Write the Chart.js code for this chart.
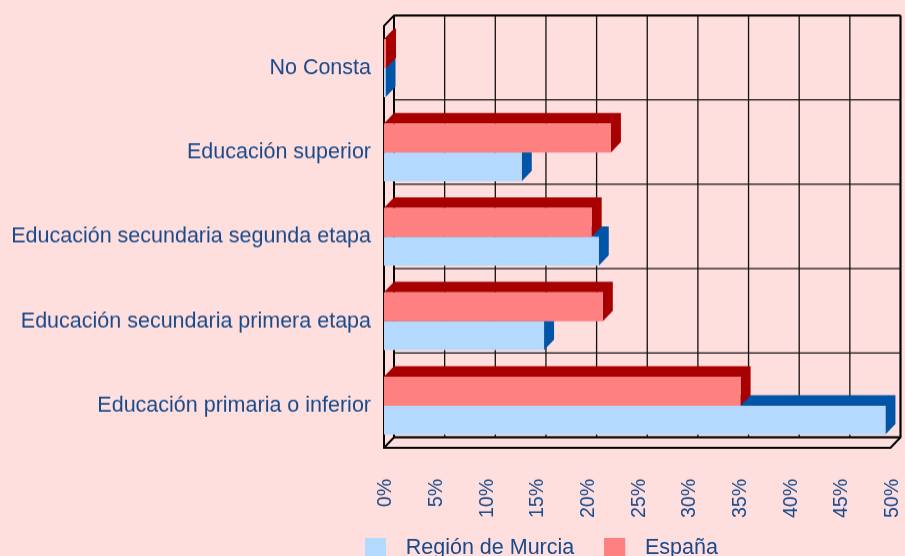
<!DOCTYPE html>
<html>
<head>
<meta charset="utf-8">
<script src="https://cdn.jsdelivr.net/npm/chart.js@4/dist/chart.umd.min.js"></script>
<style>
  html, body { margin: 0; padding: 0; background: #ffdede; overflow: hidden; }
  #wrap { position: relative; width: 905px; height: 578.5px; }
</style>
</head>
<body>
<div id="wrap"><canvas id="myChart"></canvas></div>
<script>
// data (percent)
const categories = ['No Consta', 'Educación superior', 'Educación secundaria segunda etapa', 'Educación secundaria primera etapa', 'Educación primaria o inferior'];
const murcia = [0.15, 13.6, 21.2, 15.8, 49.5];
const espana = [0.2, 22.4, 20.5, 21.6, 35.2];
const xTicks = [0, 5, 10, 15, 20, 25, 30, 35, 40, 45, 50];

const textColor = '#174a8a';
const font = 'Liberation Sans, Arial, sans-serif';
const frontColors = ['#ff8080', '#b3d9ff'];   // España, Murcia
const sideColors = ['#a80000', '#0055a8'];
const dx = 10, dy = 10.5;   // depth of the fake 3d

function swatch(color) {
    const c = document.createElement('canvas');
    c.width = 30; c.height = 21;
    const g = c.getContext('2d');
    g.fillStyle = color;
    g.fillRect(0, 0, 21, 21);
    return c;
}
const swatches = [swatch(frontColors[0]), swatch(frontColors[1])];

const box3d = {
    id: 'box3d',
    afterLayout(chart) {
        // nudge the legend so it sits where the original one is
        chart.legend.left = 192.4;
        chart.legend.top -= 10.5;
    },
    beforeDatasetsDraw(chart) {
        const {ctx, chartArea: a, scales: {x}} = chart;
        ctx.save();
        ctx.strokeStyle = '#111';
        ctx.lineWidth = 1.3;
        ctx.beginPath();
        xTicks.forEach(v => {
            const px = x.getPixelForValue(v) + dx;
            ctx.moveTo(px, a.top - dy);
            ctx.lineTo(px, a.bottom - dy);
        });
        const step = (a.bottom - a.top) / categories.length;
        for (let i = 0; i <= categories.length; i++) {
            const py = a.top + i * step - dy;
            ctx.moveTo(a.left + dx, py);
            ctx.lineTo(a.right + dx, py);
        }
        ctx.stroke();

        // walls and floor
        ctx.strokeStyle = '#000';
        ctx.lineWidth = 2;
        ctx.beginPath();
        ctx.moveTo(a.right + dx, a.top - dy);
        ctx.lineTo(a.left + dx, a.top - dy);
        ctx.lineTo(a.left, a.top);
        ctx.lineTo(a.left, a.bottom);
        ctx.lineTo(a.right, a.bottom);
        ctx.lineTo(a.right + dx, a.bottom - dy);
        ctx.lineTo(a.right + dx, a.top - dy);
        ctx.moveTo(a.left, a.bottom);
        ctx.lineTo(a.left + dx, a.bottom - dy);
        ctx.lineTo(a.right + dx, a.bottom - dy);
        ctx.moveTo(a.left + dx, a.top - dy);
        ctx.lineTo(a.left + dx, a.bottom - dy);
        ctx.stroke();
        ctx.restore();
    },
    beforeDatasetDraw(chart, args) {
        const ctx = chart.ctx;
        ctx.save();
        ctx.fillStyle = sideColors[args.index];
        args.meta.data.forEach(bar => {
            const {x, y, base, height} = bar.getProps(['x', 'y', 'base', 'height'], true);
            const t = y - height / 2, b = y + height / 2;
            ctx.beginPath();
            ctx.moveTo(base, t);
            ctx.lineTo(base + dx, t - dy);
            ctx.lineTo(x + dx, t - dy);
            ctx.lineTo(x + dx, b - dy);
            ctx.lineTo(x, b);
            ctx.lineTo(x, t);
            ctx.closePath();
            ctx.fill();
        });
        ctx.restore();
    }
};

const ctx = document.getElementById('myChart').getContext('2d');

new Chart(ctx, {
    type: 'bar',
    data: {
        labels: categories,
        datasets: [
            { label: 'España', data: espana, backgroundColor: frontColors[0] },
            { label: 'Región de Murcia', data: murcia, backgroundColor: frontColors[1] }
        ]
    },
    options: {
        indexAxis: 'y',
        responsive: true,
        maintainAspectRatio: false,
        animation: false,
        datasets: {
            bar: { categoryPercentage: 0.686, barPercentage: 1, borderWidth: 0 }
        },
        layout: { padding: { left: 0, right: 14.5, top: 24, bottom: 0 } },
        scales: {
            x: {
                min: 0,
                max: 50,
                grid: { display: false },
                border: { display: false },
                afterFit: scale => {
                    scale.height = 70;
                    scale.paddingLeft = 0;
                    scale.paddingRight = 0;
                },
                afterBuildTicks: scale => { scale.ticks = xTicks.map(v => ({ value: v })); },
                ticks: {
                    autoSkip: false,
                    minRotation: 90,
                    maxRotation: 90,
                    padding: 23,
                    labelOffset: 2,
                    color: textColor,
                    font: { family: font, size: 19.5 },
                    callback: v => v + '%'
                }
            },
            y: {
                grid: { display: false, drawTicks: false },
                border: { display: false },
                afterFit: scale => { scale.width = 384; },
                ticks: {
                    autoSkip: false,
                    padding: 13,
                    color: textColor,
                    font: { family: font, size: 21.5 }
                }
            }
        },
        plugins: {
            tooltip: { enabled: false },
            legend: {
                position: 'bottom',
                labels: {
                    usePointStyle: true,
                    pointStyleWidth: 30,
                    boxHeight: 21,
                    padding: 30,
                    color: textColor,
                    font: { family: font, size: 21.5 },
                    generateLabels(chart) {
                        const items = Chart.defaults.plugins.legend.labels.generateLabels(chart);
                        items.forEach(it => { it.pointStyle = swatches[it.datasetIndex]; });
                        return items.sort((a, b) => b.datasetIndex - a.datasetIndex);
                    }
                }
            }
        }
    },
    plugins: [box3d]
});
</script>
</body>
</html>
